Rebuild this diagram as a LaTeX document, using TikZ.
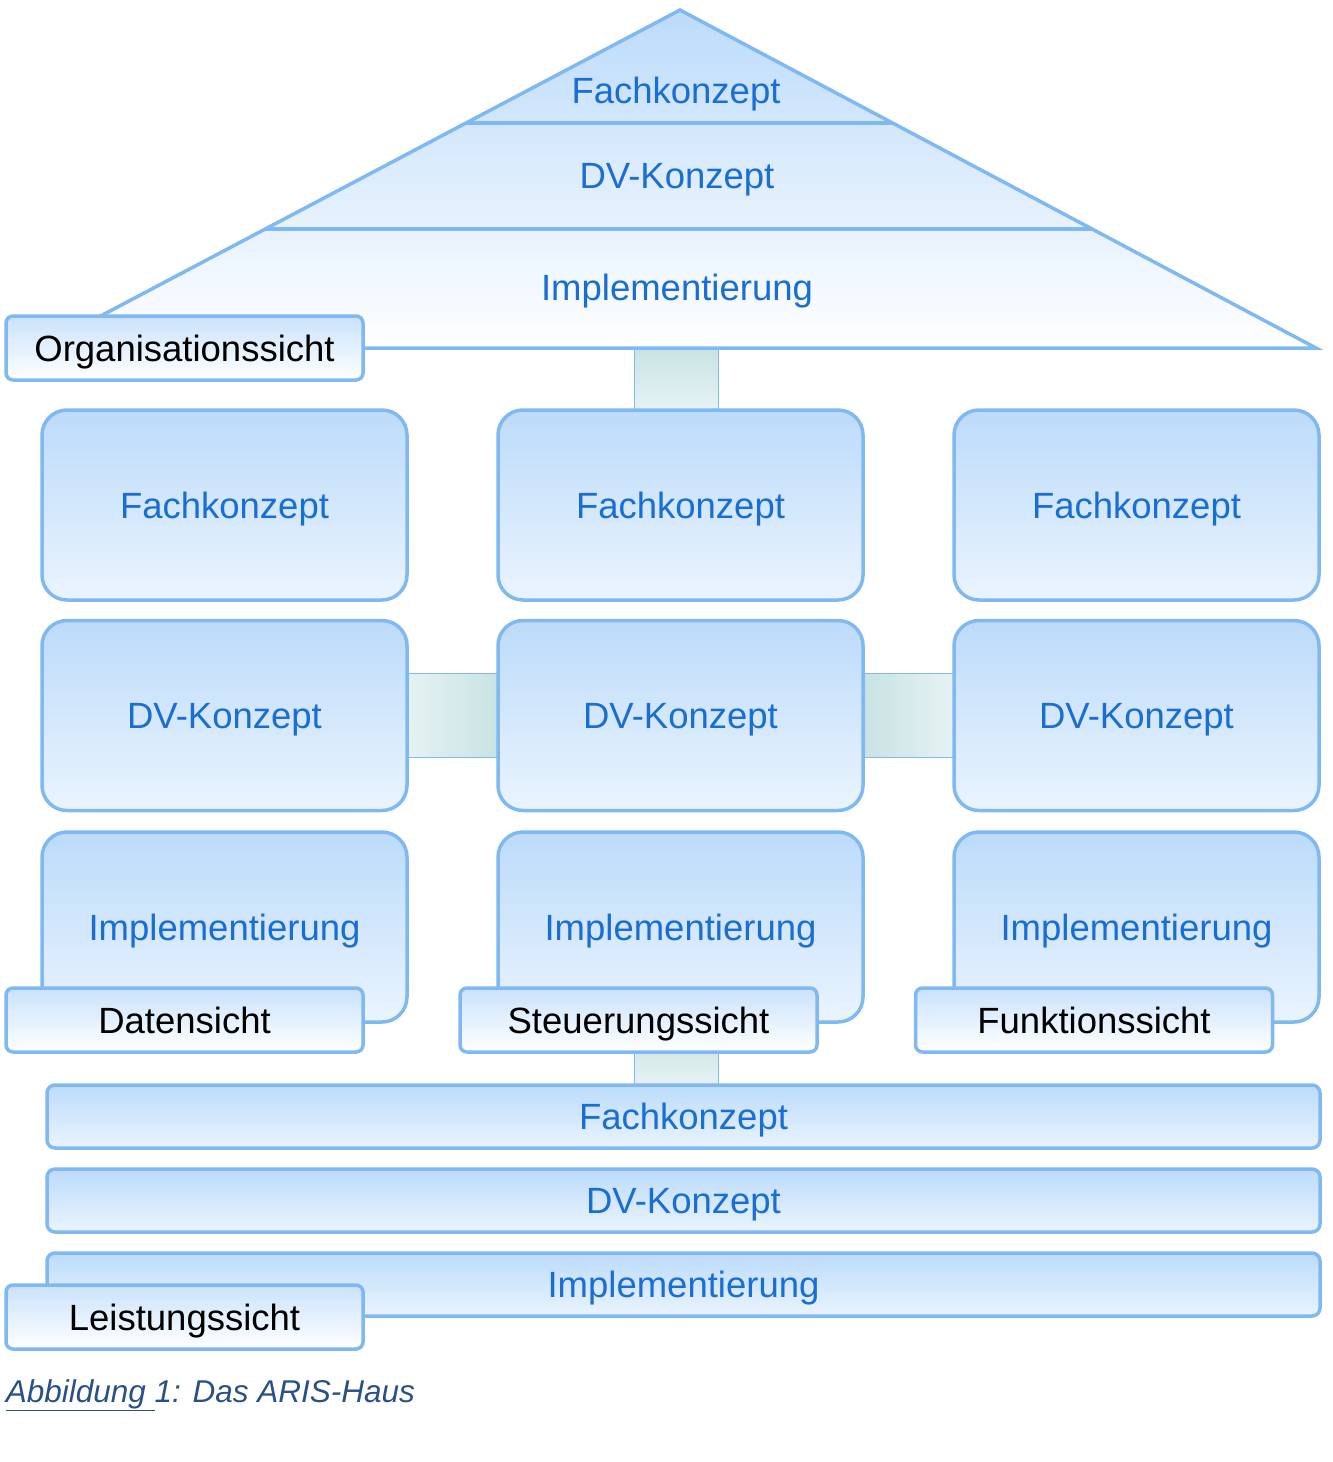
\documentclass[tikz,border=0pt]{standalone}
\usepackage{fontspec}
\setmainfont{Liberation Sans}
\usetikzlibrary{calc,backgrounds}
\definecolor{rim}{HTML}{80B8F2}
\definecolor{skyt}{HTML}{BCDBFA}
\definecolor{skyb}{HTML}{EAF4FE}
\definecolor{ink}{HTML}{1A6DD2}
\definecolor{tealA}{HTML}{C8E3E2}
\definecolor{tealB}{HTML}{E6F2F4}
\definecolor{capblue}{HTML}{2A5088}

\begin{document}
\begin{tikzpicture}[x=1pt, y=-1pt, line width=3.5pt,
          txt/.style={font=\fontsize{36.5}{40}\selectfont, text depth=0pt},
          pillar/.style={draw=rim, top color=skyt, bottom color=skyb, rounded corners=25pt, minimum width=365pt, minimum height=190pt, inner sep=0pt, outer sep=0pt, text=ink, txt},
          band/.style={draw=rim, top color=skyt, bottom color=skyb, rounded corners=8pt, minimum width=1273pt, minimum height=63pt, inner sep=0pt, outer sep=0pt, text=ink, txt},
          view/.style={draw=rim, top color=skyt!80, bottom color=white, rounded corners=7pt, minimum width=357pt, minimum height=64pt, inner sep=0pt, outer sep=0pt, text=black, txt},
          roofword/.style={inner sep=0pt, text=ink, txt},
          link/.style={draw=rim}]
        \useasboundingbox (0,0) rectangle (1333,1462);
        \coordinate (apex) at (680,10);
        \coordinate (eaveR) at (1316,348);
        \coordinate (eaveL) at (40,348);
        \draw[draw=rim, top color=skyt, bottom color=white] (apex) -- (eaveR) -- (eaveL) -- cycle;
        \draw[link] ($(apex)!0.334!(eaveL)$) -- ($(apex)!0.334!(eaveR)$);
        \draw[link] ($(apex)!0.648!(eaveL)$) -- ($(apex)!0.648!(eaveR)$);
        \node[roofword] (rFach) at (676,90) {Fachkonzept};
        \node[roofword] (rDV) at (677,176) {DV-Konzept};
        \node[roofword] (rImpl) at (677,287) {Implementierung};
        \node[view] (org) at (184.5,348) {Organisationssicht};
        \node[pillar] (f1) at (224.5,505) {Fachkonzept};
        \node[pillar] (f2) at (680.5,505) {Fachkonzept};
        \node[pillar] (f3) at (1136.5,505) {Fachkonzept};
        \node[pillar] (d1) at (224.5,715.5) {DV-Konzept};
        \node[pillar] (d2) at (680.5,715.5) {DV-Konzept};
        \node[pillar] (d3) at (1136.5,715.5) {DV-Konzept};
        \node[pillar] (i1) at (224.5,927) {Implementierung};
        \node[pillar] (i2) at (680.5,927) {Implementierung};
        \node[pillar] (i3) at (1136.5,927) {Implementierung};
        \node[view] (daten) at (184.5,1020) {Datensicht};
        \node[view] (steuer) at (638.5,1020) {Steuerungssicht};
        \node[view] (funktion) at (1094,1020) {Funktionssicht};
        \node[band] (bFach) at (683.5,1116.5) {Fachkonzept};
        \node[band] (bDV) at (683.5,1200.5) {DV-Konzept};
        \node[band] (bImpl) at (683.5,1284.5) {Implementierung};
        \node[view] (leistung) at (184.5,1317) {Leistungssicht};
        \node[anchor=base west, inner sep=0pt, font=\fontsize{31.5}{38}\selectfont\itshape, text=capblue] (caption) at (4,1402) {\underline{Abbildung }1: Das ARIS-Haus};
        \begin{scope}[on background layer]
          \shade[top color=tealA, bottom color=tealB] ($(f2.north |- eaveR)+(-46,0)$) rectangle ($(f2.north)+(38,0)$);
          \draw[link] ($(f2.north |- eaveR)+(-46,0)$) -- ($(f2.north)+(-46,0)$);
          \draw[link] ($(f2.north |- eaveR)+(38,0)$) -- ($(f2.north)+(38,0)$);
          \shade[left color=tealB, right color=tealA] ($(d1.east)+(0,-42)$) rectangle ($(d2.west)+(0,42)$);
          \draw[link] ($(d1.east)+(0,-42)$) -- ($(d2.west)+(0,-42)$);
          \draw[link] ($(d1.east)+(0,42)$) -- ($(d2.west)+(0,42)$);
          \shade[left color=tealA, right color=tealB] ($(d2.east)+(0,-42)$) rectangle ($(d3.west)+(0,42)$);
          \draw[link] ($(d2.east)+(0,-42)$) -- ($(d3.west)+(0,-42)$);
          \draw[link] ($(d2.east)+(0,42)$) -- ($(d3.west)+(0,42)$);
          \shade[top color=tealA!80, bottom color=tealB] ($(f2.south |- steuer.south)+(-46,0)$) rectangle ($(f2.south |- bFach.north)+(38,0)$);
          \draw[link] ($(f2.south |- steuer.south)+(-46,0)$) -- ($(f2.south |- bFach.north)+(-46,0)$);
          \draw[link] ($(f2.south |- steuer.south)+(38,0)$) -- ($(f2.south |- bFach.north)+(38,0)$);
        \end{scope}
      \end{tikzpicture}
\end{document}
